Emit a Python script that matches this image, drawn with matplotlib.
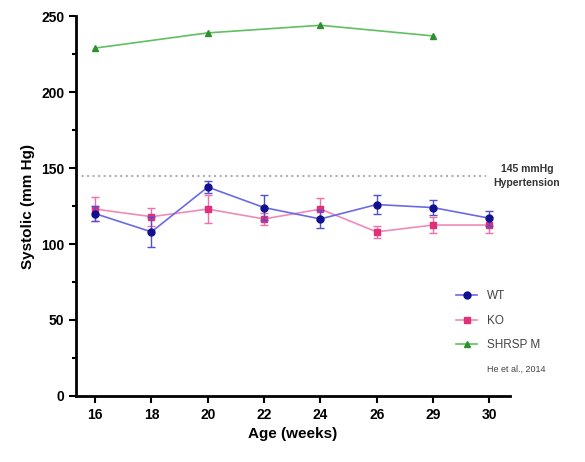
import numpy as np
import matplotlib.pyplot as plt
from matplotlib.lines import Line2D
from matplotlib.ticker import MultipleLocator

# data
ages = ['16', '18', '20', '22', '24', '26', '29', '30']
wt_mean = [120, 108, 137.5, 124, 116.5, 126, 124, 117]
wt_err = [5, 10, 4, 8, 6, 6, 5, 5]
ko_mean = [123, 118, 123, 116.5, 123, 108, 112.5, 112.5]
ko_err = [8, 6, 9, 4, 7, 4, 5, 5]
shrsp_ages = ['16', '20', '24', '29']
shrsp_mean = [229, 239, 244, 237]
threshold = 145

x = np.arange(len(ages))
x_shrsp = [ages.index(a) for a in shrsp_ages]

plt.rcParams['font.family'] = ['Liberation Sans', 'DejaVu Sans']

fig = plt.figure(figsize=(5.85, 4.62), dpi=100)
ax = fig.add_axes([0.13, 0.143, 0.742, 0.822])

ax.axhline(threshold, color='#b0b0b0', ls=':', lw=1.5, xmax=0.945, zorder=1)

ax.errorbar(x, wt_mean, yerr=wt_err, color='#6a6ae8', lw=1.2, marker='o', ms=5,
            mfc='#101090', mec='#101090', ecolor='#5050d0', elinewidth=1, capsize=3,
            zorder=4)
ax.errorbar(x, ko_mean, yerr=ko_err, color='#f08ab8', lw=1.2, marker='s', ms=5,
            mfc='#e0307a', mec='#e0307a', ecolor='#f070a8', elinewidth=1, capsize=3,
            zorder=3)
ax.plot(x_shrsp, shrsp_mean, color='#60c060', lw=1.2, marker='^', ms=5,
        mfc='#309030', mec='#309030')

ax.text(7.67, threshold, '145 mmHg\nHypertension', fontsize=7.5, fontweight='bold',
        ha='center', va='center', color='#333333', linespacing=1.5,
        clip_on=False)

ax.set_xlim(-0.34, 7.37)
ax.set_ylim(0, 250)
ax.set_xticks(x)
ax.set_xticklabels(ages)
ax.yaxis.set_major_locator(MultipleLocator(50))
ax.yaxis.set_minor_locator(MultipleLocator(25))

for s in ['top', 'right']:
    ax.spines[s].set_visible(False)
for s in ['left', 'bottom']:
    ax.spines[s].set_linewidth(2)
ax.tick_params(axis='both', which='major', width=1.5, length=5, labelsize=10)
ax.tick_params(axis='y', which='minor', width=1.5, length=3)
for lbl in ax.get_xticklabels() + ax.get_yticklabels():
    lbl.set_fontweight('bold')

ax.set_xlabel('Age (weeks)', fontsize=11, fontweight='bold')
ax.set_ylabel('Systolic (mm Hg)', fontsize=11, fontweight='bold')

handles = [
    Line2D([], [], color='#6a6ae8', lw=1.2, marker='o', ms=5, mfc='#101090', mec='#101090'),
    Line2D([], [], color='#f08ab8', lw=1.2, marker='s', ms=5, mfc='#e0307a', mec='#e0307a'),
    Line2D([], [], color='#60c060', lw=1.2, marker='^', ms=5, mfc='#309030', mec='#309030'),
    Line2D([], [], ls='none'),
]
labels = ['WT', 'KO', 'SHRSP M', 'He et al., 2014']
leg = ax.legend(handles, labels, loc='lower right', bbox_to_anchor=(1.105, 0.03),
                frameon=False, fontsize=8.5, handlelength=1.8, labelspacing=1.05)
for t in leg.get_texts():
    t.set_color('#444444')
leg.get_texts()[3].set_fontsize(6.5)

fig.savefig('out.png', dpi=100)
